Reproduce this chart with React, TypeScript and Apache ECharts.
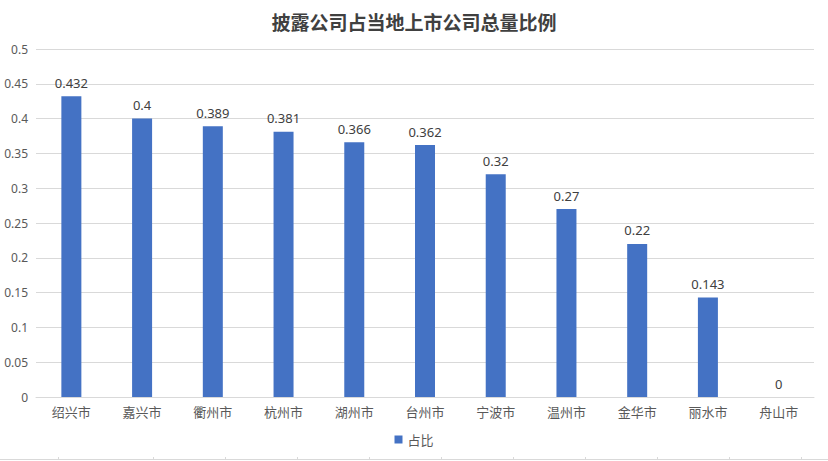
import React, { useEffect, useRef } from "react";
import * as echarts from "echarts";

const titleText = "披露公司占当地上市公司总量比例";
const categories = ["绍兴市", "嘉兴市", "衢州市", "杭州市", "湖州市", "台州市", "宁波市", "温州市", "金华市", "丽水市", "舟山市"];
const seriesName = "占比";
const values = [0.432, 0.4, 0.389, 0.381, 0.366, 0.362, 0.32, 0.27, 0.22, 0.143, 0];
const borderTicks = [58, 153, 225, 297, 369, 441, 513, 585, 657, 729, 801];

export default function App() {
  const ref = useRef<HTMLDivElement>(null);
  useEffect(() => {
    if (!ref.current) return;
    const chart = echarts.init(ref.current, null, { renderer: "svg" });
    const graphics: any[] = [
      { type: "line", shape: { x1: 0, y1: 459.5, x2: 828, y2: 459.5 }, style: { stroke: "#d9d9d9", lineWidth: 1 }, silent: true },
      ...borderTicks.map((x) => ({
        type: "line",
        shape: { x1: x + 0.5, y1: 457, x2: x + 0.5, y2: 460 },
        style: { stroke: "#d9d9d9", lineWidth: 1 },
        silent: true,
      })),
    ];
    chart.setOption({
      animation: false,
      backgroundColor: "#ffffff",
      title: {
        text: titleText,
        left: "center",
        top: 7,
        textStyle: { fontFamily: "Noto Sans CJK SC", fontSize: 19, fontWeight: "bold", color: "#404040" },
      },
      legend: {
        bottom: 10,
        left: "center",
        itemWidth: 8,
        itemHeight: 8,
        icon: "rect",
        textStyle: { fontFamily: "Noto Sans CJK SC", fontSize: 13, color: "#595959" },
        data: [seriesName],
      },
      grid: { left: 36, right: 14, top: 49, bottom: 64, containLabel: false },
      xAxis: {
        type: "category",
        data: categories,
        axisLine: { lineStyle: { color: "#d9d9d9" } },
        axisTick: { show: false },
        axisLabel: { fontFamily: "Noto Sans CJK SC", fontSize: 13, color: "#595959", margin: 8 },
      },
      yAxis: {
        type: "value",
        min: 0,
        max: 0.5,
        interval: 0.05,
        axisLine: { show: false },
        axisTick: { show: false },
        splitLine: { lineStyle: { color: "#d9d9d9" } },
        axisLabel: {
          fontFamily: "Noto Sans",
          fontSize: 12,
          color: "#595959",
          margin: 8,
          formatter: (v: number) => String(+v.toFixed(2)),
        },
      },
      series: [
        {
          name: seriesName,
          type: "bar",
          data: values,
          barWidth: 20,
          itemStyle: { color: "#4472C4" },
          label: {
            show: true,
            position: "top",
            distance: 7,
            fontFamily: "Noto Sans",
            fontSize: 13,
            color: "#404040",
          },
        },
      ],
      graphic: graphics,
    });
    return () => chart.dispose();
  }, []);
  return <div ref={ref} style={{ position: "absolute", left: 0, top: 0, width: 828, height: 461 }} />;
}
